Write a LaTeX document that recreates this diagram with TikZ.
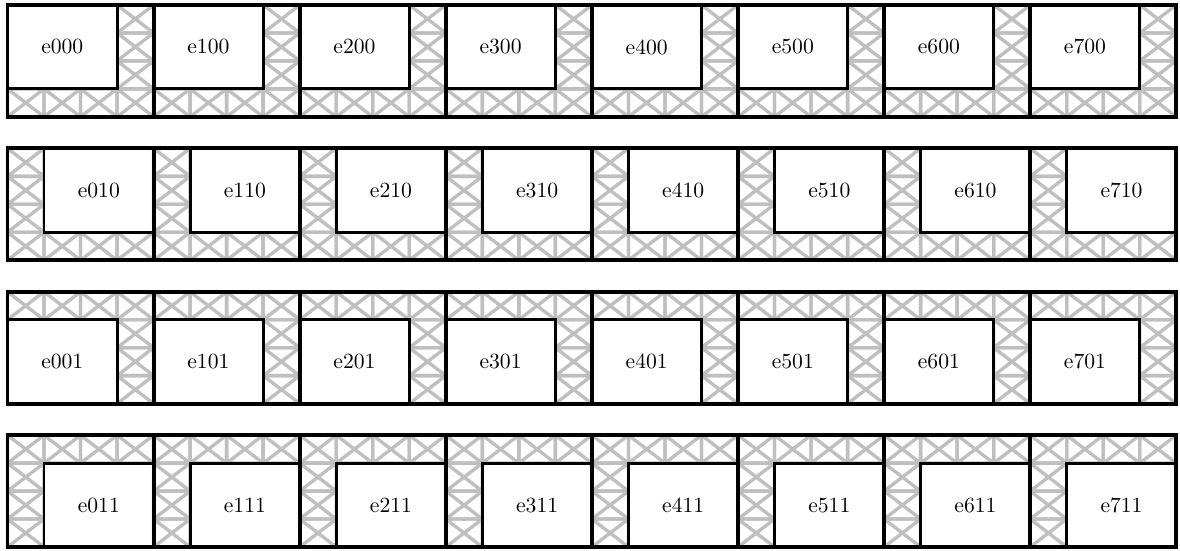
\documentclass[tikz,border=0pt]{standalone}
\begin{document}
\begin{tikzpicture}[x=0.4763pt,y=-0.4763pt,
  tile/.style={draw=black!25, line width=1.6pt, line cap=round, line join=round},
  innerbox/.style={draw=black, line width=1.4pt, fill=white},
  frame/.style={draw=black, line width=1.9pt},
  lbl/.style={font=\fontsize{10.3}{12}\selectfont, inner sep=0pt}]
\useasboundingbox (0,0) rectangle (1180,551);
\def\tw{36.525}
\def\th{27.95}
\foreach \r/\a/\b in {0/0/0, 1/1/0, 2/0/1, 3/1/1} {
  \pgfmathsetmacro\Y{5+143.4*\r}
  \pgfmathtruncatemacro\hc{3-3*\a}
  \pgfmathtruncatemacro\hk{3-3*\b}
  \foreach \i in {0,...,7} {
    \pgfmathsetmacro\X{7.5+146.1*\i}
    \foreach \c in {0,...,3} {
      \foreach \k in {0,...,3} {
        \pgfmathtruncatemacro\hit{or(\c==\hc,\k==\hk)}
        \ifnum\hit=1
          \pgfmathsetmacro\xa{\X+\c*\tw}
          \pgfmathsetmacro\ya{\Y+\k*\th}
          \pgfmathsetmacro\xb{\xa+\tw}
          \pgfmathsetmacro\yb{\ya+\th}
          \draw[tile] (\xa,\ya) rectangle (\xb,\yb) (\xa,\ya) -- (\xb,\yb) (\xb,\ya) -- (\xa,\yb);
        \fi
      }
    }
    \pgfmathsetmacro\ix{\X+\a*\tw}
    \pgfmathsetmacro\iy{\Y+\b*\th}
    \pgfmathsetmacro\jx{\ix+3*\tw}
    \pgfmathsetmacro\jy{\iy+3*\th}
    \draw[innerbox] (\ix,\iy) rectangle (\jx,\jy);
    \node[lbl] (e\i\a\b) at ({(\ix+\jx)/2},{(\iy+\jy)/2}) {e\i\a\b};
  }
  \draw[frame] (7.5,\Y) rectangle (1176.3,{\Y+111.8});
  \foreach \i in {1,...,7} {
    \draw[frame] ({7.5+146.1*\i},\Y) -- ({7.5+146.1*\i},{\Y+111.8});
  }
}
\end{tikzpicture}
\end{document}
